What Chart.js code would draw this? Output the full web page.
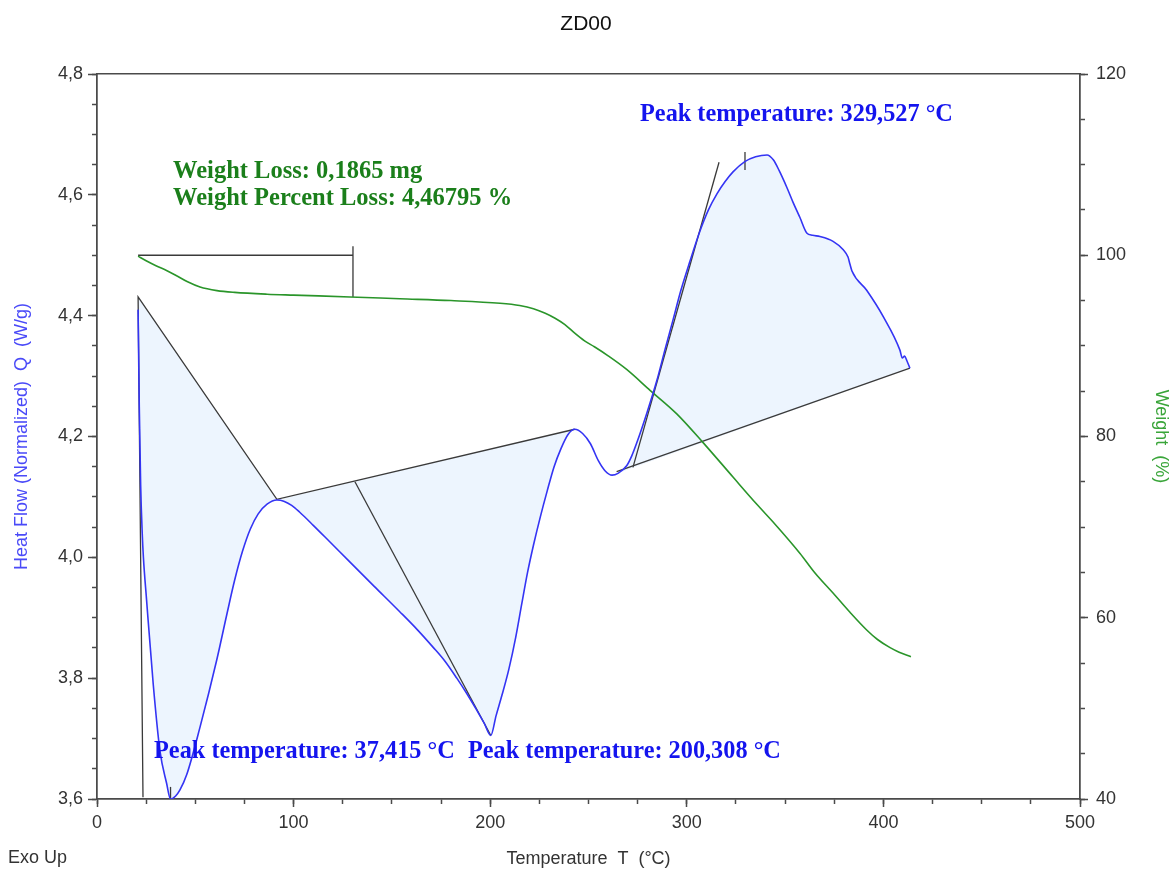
<!DOCTYPE html>
<html>
<head>
<meta charset="utf-8">
<script src="https://cdn.jsdelivr.net/npm/chart.js@4/dist/chart.umd.min.js"></script>
<style>
html,body{margin:0;padding:0;background:#fff;}
canvas{display:block;}
</style>
</head>
<body>
<canvas id="c" width="1172" height="870"></canvas>
<script>
// ---------------- DATA ----------------
// Heat flow curve (left axis, W/g) vs temperature (°C)
const heatT = [20.9, 21.5, 22.2, 23.0, 23.6, 25.2, 28.6, 32.0, 35.4, 37.4, 40.0, 42.2, 45.6, 52.4, 60.9, 66.0, 70.0, 74.0, 78.0, 82.0, 86.5, 91.5,
  95.0, 99.0, 103.0, 110.0, 118.0, 128.7, 141.0, 154.0, 163.0, 171.0, 177.0, 183.0, 188.0, 193.0, 197.0, 200.3,
  203.0, 206.0, 209.5, 213.0, 216.0, 219.0, 222.0, 225.5, 229.0, 232.5, 236.0, 239.5, 243.0,
  247.0, 251.0, 255.0, 258.5, 262.0, 265.0, 269.5, 272.0, 274.6, 279.7, 284.8, 289.0, 293.0, 297.0, 301.6, 306.7, 311.0, 315.4, 319.5, 323.5,
  329.5, 335.0, 340.8, 344.0, 347.0, 350.8, 354.0, 357.6, 361.0, 364.0, 367.7, 374.4, 379.6, 382.0, 383.0, 384.0, 391.5, 400.0, 408.4,
  409.6, 410.8, 412.0, 413.5];
const heatQ = [4.410, 4.250, 4.120, 4.040, 4.000, 3.930, 3.790, 3.680, 3.626, 3.600, 3.605, 3.615, 3.640, 3.719, 3.830, 3.905, 3.962, 4.010, 4.047, 4.072, 4.088, 4.095,
  4.093, 4.086, 4.075, 4.053, 4.027, 3.992, 3.952, 3.910, 3.880, 3.851, 3.828, 3.800, 3.775, 3.748, 3.725, 3.705,
  3.738, 3.772, 3.815, 3.868, 3.922, 3.975, 4.020, 4.067, 4.110, 4.150, 4.180, 4.203, 4.212,
  4.205, 4.188, 4.160, 4.143, 4.136, 4.139, 4.152, 4.168, 4.190, 4.239, 4.293, 4.345, 4.393, 4.442, 4.490, 4.540, 4.575, 4.602, 4.622, 4.638,
  4.655, 4.663, 4.666, 4.658, 4.640, 4.613, 4.588, 4.562, 4.537, 4.533, 4.531, 4.523, 4.509, 4.497, 4.485, 4.474, 4.442, 4.398, 4.343,
  4.330, 4.333, 4.325, 4.313];

// Weight curve (right axis, %) vs temperature (°C)
const weightT = [20.9, 25, 30, 35.6, 40, 45.8, 52.4, 61, 70, 86.5, 100, 128.7, 154, 180, 205, 215, 222, 228, 233, 238, 243,
  248, 253, 260, 269.4, 281.3, 294.9, 308.4, 323.6, 335.5, 345, 357.6, 365, 374.5, 383, 391.5, 397, 403.4, 408, 414];
const weightW = [99.9, 99.4, 98.85, 98.3, 97.8, 97.1, 96.5, 96.1, 95.9, 95.7, 95.6, 95.4, 95.2, 95.0, 94.7, 94.45, 94.1, 93.6, 93.05, 92.35, 91.4,
  90.55, 89.9, 88.9, 87.4, 85.1, 82.5, 79.3, 75.5, 72.55, 70.3, 67.1, 65.0, 62.7, 60.6, 58.65, 57.6, 56.7, 56.2, 55.7];

// Analysis construction lines (heat-flow units)
const peak1LineT = [23.4, 20.9, 91.5, 243.0];
const peak1LineQ = [3.603, 4.431, 4.096, 4.212];
const peak1MarkT = [37.4, 37.4];
const peak1MarkQ = [3.600, 3.620];
const peak2TangentT = [131.2, 200.3];
const peak2TangentQ = [4.125, 3.705];
const peak3BaseT = [264.3, 413.5];
const peak3BaseQ = [4.142, 4.313];
const peak3TangentT = [272.6, 316.4];
const peak3TangentQ = [4.149, 4.654];
const peak3MarkT = [329.6, 329.6];
const peak3MarkQ = [4.641, 4.671];
// Weight-loss bracket (weight units)
const bracketT = [20.9, 130.2, 130.2, 130.2];
const bracketW = [100.0, 100.0, 101.0, 95.4];

// Integration ranges (peak regions)
const region1Range = [20.9, 91.5];
const region1Apex = [20.9, 4.431];
const region2Range = [91.5, 243.0];
const region3Range = [262.0, 413.5];

// Tick labels
const xTicks = [0, 100, 200, 300, 400, 500];
const yTicks = [3.6, 3.8, 4.0, 4.2, 4.4, 4.6, 4.8];
const y2Ticks = [40, 60, 80, 100, 120];

// Annotations
const annoTexts = [
  {text: 'Weight Loss: 0,1865 mg', t: 38.7, q: 4.628, color: '#1b7f1b', size: 24.5},
  {text: 'Weight Percent Loss: 4,46795 %', t: 38.7, q: 4.583, color: '#1b7f1b', size: 24.5},
  {text: 'Peak temperature: 329,527 °C', t: 276.2, q: 4.722, color: '#1414ee', size: 24.3},
  {text: 'Peak temperature: 37,415 °C', t: 29.0, q: 3.668, color: '#1414ee', size: 24.3},
  {text: 'Peak temperature: 200,308 °C', t: 188.7, q: 3.668, color: '#1414ee', size: 24.3}
];

// ---------------- BUILD ----------------
const toPts = (xs, ys) => xs.map((x, i) => ({x: x, y: ys[i]}));
const heatPts = toPts(heatT, heatQ);
const inRange = (r) => heatPts.filter(p => p.x >= r[0] && p.x <= r[1]);
const poly1 = [{x: region1Apex[0], y: region1Apex[1]}].concat(inRange(region1Range));
const poly2 = inRange(region2Range);
const poly3 = inRange(region3Range);

const SANS = '"Liberation Sans", Arial, sans-serif';
const SERIF = '"Liberation Serif", "Times New Roman", serif';
const AXIS = '#4a4a4a';
const LINE = '#3a3a3a';
const FILL = '#edf5fe';
const BLUE = '#3434f4';
const GREEN = '#2a952a';

function lineDs(pts, axis, color, width, order) {
  return {data: pts, yAxisID: axis, showLine: true, borderColor: color, borderWidth: width,
    pointRadius: 0, pointHoverRadius: 0, fill: false, tension: 0, order: order};
}
function curveDs(pts, axis, color) {
  const d = lineDs(pts, axis, color, 1.6, 0);
  d.cubicInterpolationMode = 'monotone';
  return d;
}
function fillDs(pts) {
  return {data: pts, yAxisID: 'y', showLine: true, borderColor: 'rgba(0,0,0,0)', borderWidth: 1,
    backgroundColor: FILL, pointRadius: 0, fill: 'shape', cubicInterpolationMode: 'monotone', order: 5};
}

const fixW = w => s => { s.width = w; };
const fixH = h => s => { s.height = h; };
const setTicks = arr => s => { s.ticks = arr.map(v => ({value: v})); };
const range = (a, b, step) => { const r = []; for (let v = a; v <= b + 1e-9; v += step) r.push(+v.toFixed(4)); return r; };

const tickFont = {family: SANS, size: 18};
const titleFont = {family: SANS, size: 18};

const annotationPlugin = {
  id: 'annotations',
  afterDatasetsDraw(chart) {
    const {ctx} = chart;
    const xs = chart.scales.x, ys = chart.scales.y;
    ctx.save();
    ctx.textAlign = 'left';
    ctx.textBaseline = 'alphabetic';
    annoTexts.forEach(a => {
      ctx.font = 'bold ' + a.size + 'px ' + SERIF;
      ctx.fillStyle = a.color;
      ctx.fillText(a.text, xs.getPixelForValue(a.t), ys.getPixelForValue(a.q));
    });
    ctx.font = '18px ' + SANS;
    ctx.fillStyle = '#333';
    ctx.fillText('Exo Up', 8, 863);
    ctx.restore();
  }
};

new Chart(document.getElementById('c'), {
  type: 'scatter',
  data: {
    datasets: [
      curveDs(heatPts, 'y', BLUE),
      curveDs(toPts(weightT, weightW), 'y2', GREEN),
      lineDs(toPts(peak1LineT, peak1LineQ), 'y', LINE, 1.3, 1),
      lineDs(toPts(peak1MarkT, peak1MarkQ), 'y', LINE, 1.3, 1),
      lineDs(toPts(peak2TangentT, peak2TangentQ), 'y', LINE, 1.3, 1),
      lineDs(toPts(peak3BaseT, peak3BaseQ), 'y', LINE, 1.3, 1),
      lineDs(toPts(peak3TangentT, peak3TangentQ), 'y', LINE, 1.3, 1),
      lineDs(toPts(peak3MarkT, peak3MarkQ), 'y', LINE, 1.3, 1),
      lineDs(toPts(bracketT, bracketW), 'y2', LINE, 1.3, 1),
      fillDs(poly1),
      fillDs(poly2),
      fillDs(poly3)
    ]
  },
  options: {
    responsive: false,
    animation: false,
    devicePixelRatio: 1,
    events: [],
    layout: {padding: 0, autoPadding: false},
    plugins: {
      legend: {display: false},
      tooltip: {enabled: false},
      title: {display: true, text: 'ZD00', color: '#111', font: {family: SANS, size: 21, weight: 'normal'},
        padding: {top: 11.4, bottom: 37.4}}
    },
    scales: {
      x: {
        type: 'linear', position: 'bottom', min: 0, max: 500, weight: 1,
        afterFit: fixH(71), afterBuildTicks: setTicks(xTicks),
        ticks: {font: tickFont, color: '#333', padding: 5, maxRotation: 0, autoSkip: false},
        grid: {drawOnChartArea: false, tickLength: 8, color: AXIS, tickWidth: 1.5},
        border: {color: AXIS, width: 1.5},
        title: {display: true, text: 'Temperature  T  (°C)', color: '#333', font: titleFont, padding: {top: 0, bottom: 0}}
      },
      xMinor: {
        type: 'linear', position: 'bottom', min: 0, max: 500, weight: 0,
        afterFit: fixH(0), afterBuildTicks: setTicks(range(0, 500, 25)),
        ticks: {display: false},
        grid: {drawOnChartArea: false, tickLength: 5, color: AXIS, tickWidth: 1.5},
        border: {color: AXIS, width: 1.5}
      },
      xTop: {
        type: 'linear', position: 'top', min: 0, max: 500, weight: 0,
        afterFit: fixH(0),
        ticks: {display: false},
        grid: {drawOnChartArea: false, drawTicks: false},
        border: {color: AXIS, width: 1.5}
      },
      y: {
        type: 'linear', position: 'left', min: 3.6, max: 4.8, weight: 1,
        afterFit: fixW(97), afterBuildTicks: setTicks(yTicks),
        ticks: {font: tickFont, color: '#333', padding: 5, callback: v => v.toFixed(1).replace('.', ',')},
        grid: {drawOnChartArea: false, tickLength: 9, color: AXIS, tickWidth: 1.5},
        border: {color: AXIS, width: 1.5},
        title: {display: true, text: 'Heat Flow (Normalized)  Q  (W/g)', color: '#4a4af8', font: titleFont, padding: {top: 11, bottom: 0}}
      },
      yMinor: {
        type: 'linear', position: 'left', min: 3.6, max: 4.8, weight: 0,
        afterFit: fixW(0), afterBuildTicks: setTicks(range(3.6, 4.8, 0.05)),
        ticks: {display: false},
        grid: {drawOnChartArea: false, tickLength: 5, color: AXIS, tickWidth: 1.5},
        border: {color: AXIS, width: 1.5}
      },
      y2: {
        type: 'linear', position: 'right', min: 40, max: 120, weight: 1,
        afterFit: fixW(92), afterBuildTicks: setTicks(y2Ticks),
        ticks: {font: tickFont, color: '#333', padding: 8},
        grid: {drawOnChartArea: false, tickLength: 8, color: AXIS, tickWidth: 1.5},
        border: {color: AXIS, width: 1.5},
        title: {display: true, text: 'Weight  (%)', color: '#3aa53a', font: titleFont, padding: {top: 0, bottom: 0}}
      },
      y2Minor: {
        type: 'linear', position: 'right', min: 40, max: 120, weight: 0,
        afterFit: fixW(0), afterBuildTicks: setTicks(range(40, 120, 5)),
        ticks: {display: false},
        grid: {drawOnChartArea: false, tickLength: 5, color: AXIS, tickWidth: 1.5},
        border: {color: AXIS, width: 1.5}
      }
    }
  },
  plugins: [annotationPlugin]
});
</script>
</body>
</html>
